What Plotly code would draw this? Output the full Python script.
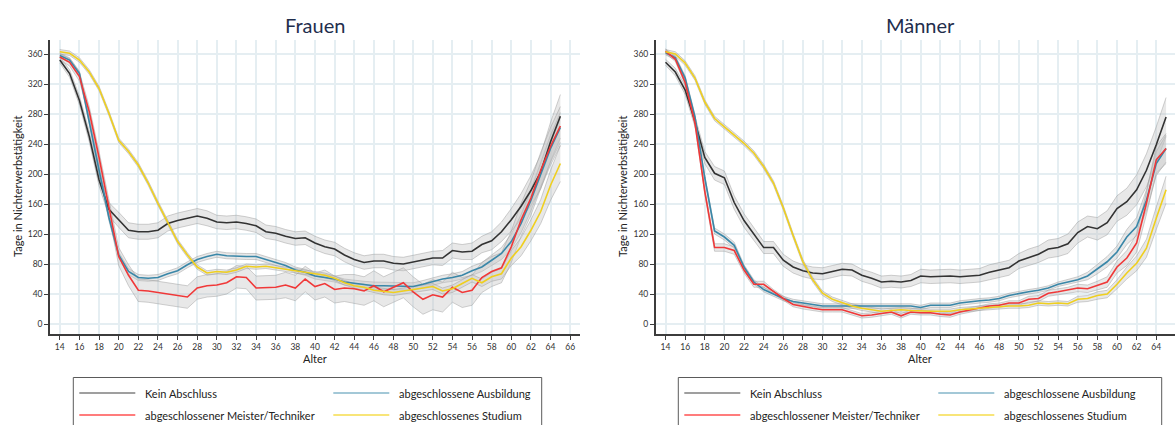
import plotly.graph_objects as go

# Alter (x-Achse)
ages = list(range(14, 66))
x_ticks = list(range(14, 67, 2))
y_ticks = list(range(0, 361, 40))

labels = ["Kein Abschluss", "abgeschlossene Ausbildung",
          "abgeschlossener Meister/Techniker", "abgeschlossenes Studium"]
panel_titles = ["Frauen", "Männer"]
y_title = "Tage in Nichterwerbstätigkeit"
x_title = "Alter"

# ---- Frauen: Tage in Nichterwerbstätigkeit nach Alter (14..65)
fr_kein = [352, 334, 298, 250, 192, 153, 139, 125, 123, 123,
           125, 134, 138, 141, 144, 141, 136, 135, 136, 134,
           131, 123, 121, 117, 114, 115, 108, 103, 100, 92,
           86, 82, 84, 84, 81, 80, 83, 86, 88, 88,
           98, 96, 97, 106, 111, 123, 139, 157, 178, 203,
           243, 277]
fr_ausb = [358, 352, 334, 268, 205, 142, 92, 70, 62, 61,
           62, 67, 71, 79, 86, 90, 93, 91, 90, 90,
           90, 86, 83, 78, 72, 69, 64, 62, 60, 56,
           54, 52, 51, 51, 51, 50, 50, 53, 57, 60,
           62, 65, 71, 76, 85, 94, 110, 134, 165, 199,
           234, 262]
fr_meis = [356, 349, 330, 283, 222, 155, 90, 65, 45, 44,
           42, 40, 38, 36, 48, 51, 52, 55, 63, 62,
           48, 48, 49, 52, 48, 60, 50, 54, 46, 48,
           47, 44, 51, 43, 49, 55, 43, 33, 39, 36,
           49, 42, 45, 62, 70, 75, 103, 139, 168, 205,
           237, 264]
fr_stud = [363, 361, 352, 336, 314, 281, 245, 230, 212, 188,
           161, 136, 110, 92, 76, 68, 70, 69, 72, 77,
           76, 77, 75, 74, 72, 70, 67, 65, 61, 55,
           51, 49, 45, 43, 42, 44, 46, 47, 50, 44,
           47, 54, 61, 55, 63, 67, 88, 103, 125, 150,
           185, 214]

# Halbe Breite der Konfidenzbänder, Frauen
fr_kein_ci = [4, 5, 6, 7, 8, 9, 10, 10, 10, 10,
              10, 10, 10, 10, 10, 10, 9, 9, 9, 9,
              9, 9, 9, 9, 9, 9, 9, 9, 9, 9,
              9, 9, 9, 9, 9, 9, 9, 9, 9, 10,
              10, 10, 11, 11, 12, 13, 15, 17, 20, 23,
              26, 29]
fr_ausb_ci = [3, 3, 3, 4, 4, 4, 4, 4, 4, 4,
              4, 4, 4, 4, 4, 4, 4, 4, 4, 4,
              4, 4, 4, 4, 4, 4, 4, 4, 4, 4,
              4, 5, 5, 5, 5, 5, 5, 5, 5, 5,
              5, 5, 6, 6, 7, 8, 10, 12, 14, 16,
              18, 20]
fr_meis_ci = [4, 5, 6, 7, 8, 10, 12, 14, 15, 15,
              15, 15, 15, 15, 15, 15, 15, 15, 15, 15,
              16, 16, 16, 17, 17, 17, 18, 18, 18, 18,
              19, 19, 20, 20, 20, 20, 20, 20, 20, 20,
              20, 20, 20, 20, 20, 20, 21, 22, 23, 24,
              25, 26]
fr_stud_ci = [3, 3, 3, 3, 3, 3, 3, 3, 3, 3,
              3, 3, 3, 3, 3, 3, 3, 3, 3, 3,
              3, 3, 3, 3, 3, 3, 3, 3, 3, 3,
              3, 4, 4, 4, 4, 4, 4, 4, 4, 4,
              5, 5, 5, 5, 6, 7, 10, 12, 14, 16,
              20, 24]

# ---- Männer
mn_kein = [349, 336, 312, 270, 222, 201, 195, 162, 138, 120,
           102, 102, 85, 76, 71, 68, 67, 70, 73, 72,
           65, 61, 56, 57, 56, 58, 64, 63, 64, 64,
           63, 64, 65, 69, 72, 75, 84, 89, 93, 100,
           102, 107, 122, 130, 127, 135, 154, 163, 179, 205,
           239, 276]
mn_ausb = [362, 355, 328, 276, 195, 124, 116, 105, 76, 56,
           46, 40, 34, 30, 28, 25, 24, 24, 24, 25,
           25, 25, 24, 25, 24, 24, 22, 25, 25, 25,
           28, 30, 31, 32, 34, 38, 41, 43, 45, 48,
           53, 56, 59, 64, 73, 83, 96, 116, 130, 165,
           214, 234]
mn_meis = [364, 353, 322, 268, 177, 102, 102, 98, 72, 53,
           53, 43, 34, 26, 23, 21, 19, 19, 19, 15,
           11, 12, 14, 16, 11, 16, 15, 15, 13, 12,
           16, 19, 22, 24, 25, 28, 28, 33, 34, 41,
           43, 45, 48, 47, 51, 56, 76, 88, 108, 161,
           219, 234]
mn_stud = [363, 360, 348, 328, 296, 274, 263, 252, 241, 228,
           210, 188, 155, 118, 83, 59, 41, 33, 28, 24,
           21, 19, 17, 18, 19, 18, 17, 17, 17, 17,
           19, 20, 21, 22, 22, 24, 24, 25, 28, 27,
           28, 27, 33, 34, 38, 40, 53, 68, 81, 101,
           141, 179]

# Halbe Breite der Konfidenzbänder, Männer
mn_kein_ci = [4, 5, 6, 7, 8, 9, 9, 9, 9, 9,
              8, 8, 8, 8, 8, 8, 8, 8, 8, 8,
              8, 8, 8, 8, 8, 8, 9, 9, 9, 9,
              9, 9, 9, 10, 10, 10, 10, 11, 11, 12,
              12, 13, 14, 14, 15, 16, 17, 18, 20, 22,
              24, 26]
mn_ausb_ci = [3, 3, 3, 3, 3, 4, 4, 4, 3, 3,
              3, 3, 3, 3, 3, 3, 3, 3, 3, 3,
              3, 3, 3, 3, 3, 3, 3, 3, 3, 3,
              3, 3, 3, 3, 3, 3, 3, 3, 3, 3,
              3, 3, 4, 5, 6, 7, 8, 10, 12, 14,
              16, 18]
mn_meis_ci = [3, 3, 3, 3, 4, 5, 5, 5, 4, 4,
              4, 3, 3, 3, 3, 3, 3, 3, 3, 3,
              3, 3, 3, 3, 3, 3, 3, 3, 3, 3,
              3, 3, 3, 3, 3, 3, 3, 4, 4, 4,
              4, 4, 5, 5, 6, 7, 8, 10, 12, 15,
              18, 20]
mn_stud_ci = [3, 3, 3, 3, 3, 3, 3, 3, 3, 3,
              3, 3, 3, 3, 3, 3, 3, 3, 3, 3,
              3, 3, 3, 3, 3, 3, 3, 3, 3, 3,
              3, 3, 3, 3, 3, 3, 3, 3, 3, 3,
              3, 3, 4, 4, 5, 5, 6, 8, 10, 12,
              15, 18]

line_colors = ["#333333", "#3a87a8", "#f03838", "#efcf1f"]
legend_colors = ["#7f7f7f", "#84b6ca", "#ff5050", "#f6dc4c"]
font_family = "Lato, 'Open Sans', sans-serif"

W, H = 1175, 425
panels = [
    dict(series=[fr_kein, fr_ausb, fr_meis, fr_stud],
         ci=[fr_kein_ci, fr_ausb_ci, fr_meis_ci, fr_stud_ci],
         xa="x", ya="y"),
    dict(series=[mn_kein, mn_ausb, mn_meis, mn_stud],
         ci=[mn_kein_ci, mn_ausb_ci, mn_meis_ci, mn_stud_ci],
         xa="x2", ya="y2"),
]

fig = go.Figure()

# confidence bands first, lines on top
for p in panels:
    for vals, hw in zip(p["series"], p["ci"]):
        lo = [v - h for v, h in zip(vals, hw)]
        hi = [v + h for v, h in zip(vals, hw)]
        fig.add_trace(go.Scatter(x=ages, y=lo, mode="lines", xaxis=p["xa"], yaxis=p["ya"],
                                 line=dict(color="rgba(150,150,150,0.55)", width=0.8),
                                 showlegend=False, hoverinfo="skip"))
        fig.add_trace(go.Scatter(x=ages, y=hi, mode="lines", xaxis=p["xa"], yaxis=p["ya"],
                                 line=dict(color="rgba(150,150,150,0.55)", width=0.8),
                                 fill="tonexty", fillcolor="rgba(195,195,195,0.38)",
                                 showlegend=False, hoverinfo="skip"))
for p in panels:
    for vals, name, col in zip(p["series"], labels, line_colors):
        fig.add_trace(go.Scatter(x=ages, y=vals, mode="lines", name=name,
                                 xaxis=p["xa"], yaxis=p["ya"],
                                 line=dict(color=col, width=1.6),
                                 showlegend=False))

# plot areas in pixels
left_x0, left_x1 = 50, 580
right_x0, right_x1 = 655.7, 1175
top_px, bottom_px = 40, 334
px_per_year = (left_x1 - left_x0) / 54.0
right_hi = 13 + (right_x1 - right_x0) / px_per_year

axis_common = dict(showline=True, linecolor="#3c3c3c", linewidth=1.5, mirror=False,
                   ticks="outside", ticklen=4, tickwidth=1, tickcolor="#3c3c3c",
                   showgrid=True, gridcolor="#e5eef2", gridwidth=1.6, zeroline=False,
                   tickfont=dict(size=8.5, color="#333333", family=font_family))
ydom = [(H - bottom_px) / H, (H - top_px) / H]

fig.update_layout(
    width=W, height=H,
    margin=dict(l=0, r=0, t=0, b=0),
    paper_bgcolor="white", plot_bgcolor="white",
    showlegend=False,
    font=dict(family=font_family, color="#222222"),
    xaxis=dict(domain=[left_x0 / W, left_x1 / W], range=[13, 67],
               tickmode="array", tickvals=x_ticks, anchor="y", **axis_common),
    yaxis=dict(domain=ydom, range=[-13.3, 378.7], tickmode="array",
               tickvals=y_ticks, anchor="x", **axis_common),
    xaxis2=dict(domain=[right_x0 / W, 1.0], range=[13, right_hi],
                tickmode="array", tickvals=x_ticks, anchor="y2", **axis_common),
    yaxis2=dict(domain=ydom, range=[-13.3, 378.7], tickmode="array",
                tickvals=y_ticks, anchor="x2", **axis_common),
)

def py(ypix):
    return (H - ypix) / H

annotations = []
shapes = []
for i, (cx, ylab_x, leg_x0, leg_x1) in enumerate([
        (315, 18, 73.3, 541.7),
        (920, 623, 678.3, 1161.7)]):
    annotations.append(dict(text=panel_titles[i], x=cx / W, y=py(25), xref="paper", yref="paper",
                            showarrow=False, xanchor="center", yanchor="middle",
                            font=dict(size=20, color="#1f2e4d", family=font_family)))
    annotations.append(dict(text=y_title, x=ylab_x / W, y=py(187), xref="paper", yref="paper",
                            showarrow=False, textangle=-90, xanchor="center", yanchor="middle",
                            font=dict(size=11, color="#222222", family=font_family)))
    annotations.append(dict(text=x_title, x=cx / W, y=py(358), xref="paper", yref="paper",
                            showarrow=False, xanchor="center", yanchor="middle",
                            font=dict(size=11, color="#222222", family=font_family)))
    # legend frame
    shapes.append(dict(type="rect", xref="paper", yref="paper",
                       x0=leg_x0 / W, x1=leg_x1 / W, y0=-0.05, y1=py(377.5),
                       line=dict(color="#5a5a5a", width=1), fillcolor="rgba(0,0,0,0)"))
    # legend entries: two columns, two rows
    offsets = [(0, 393), (254, 393), (0, 415), (254, 415)]
    for (dx, ypix), lab, col in zip(offsets, labels, legend_colors):
        sx0 = leg_x0 + 6 + dx
        shapes.append(dict(type="line", xref="paper", yref="paper",
                           x0=sx0 / W, x1=(sx0 + 56) / W, y0=py(ypix), y1=py(ypix),
                           line=dict(color=col, width=1.6)))
        annotations.append(dict(text=lab, x=(sx0 + 64) / W, y=py(ypix), xref="paper", yref="paper",
                                showarrow=False, xanchor="left", yanchor="middle",
                                font=dict(size=11, color="#222222", family=font_family)))

fig.update_layout(annotations=annotations, shapes=shapes)
fig.write_html("out.html")
